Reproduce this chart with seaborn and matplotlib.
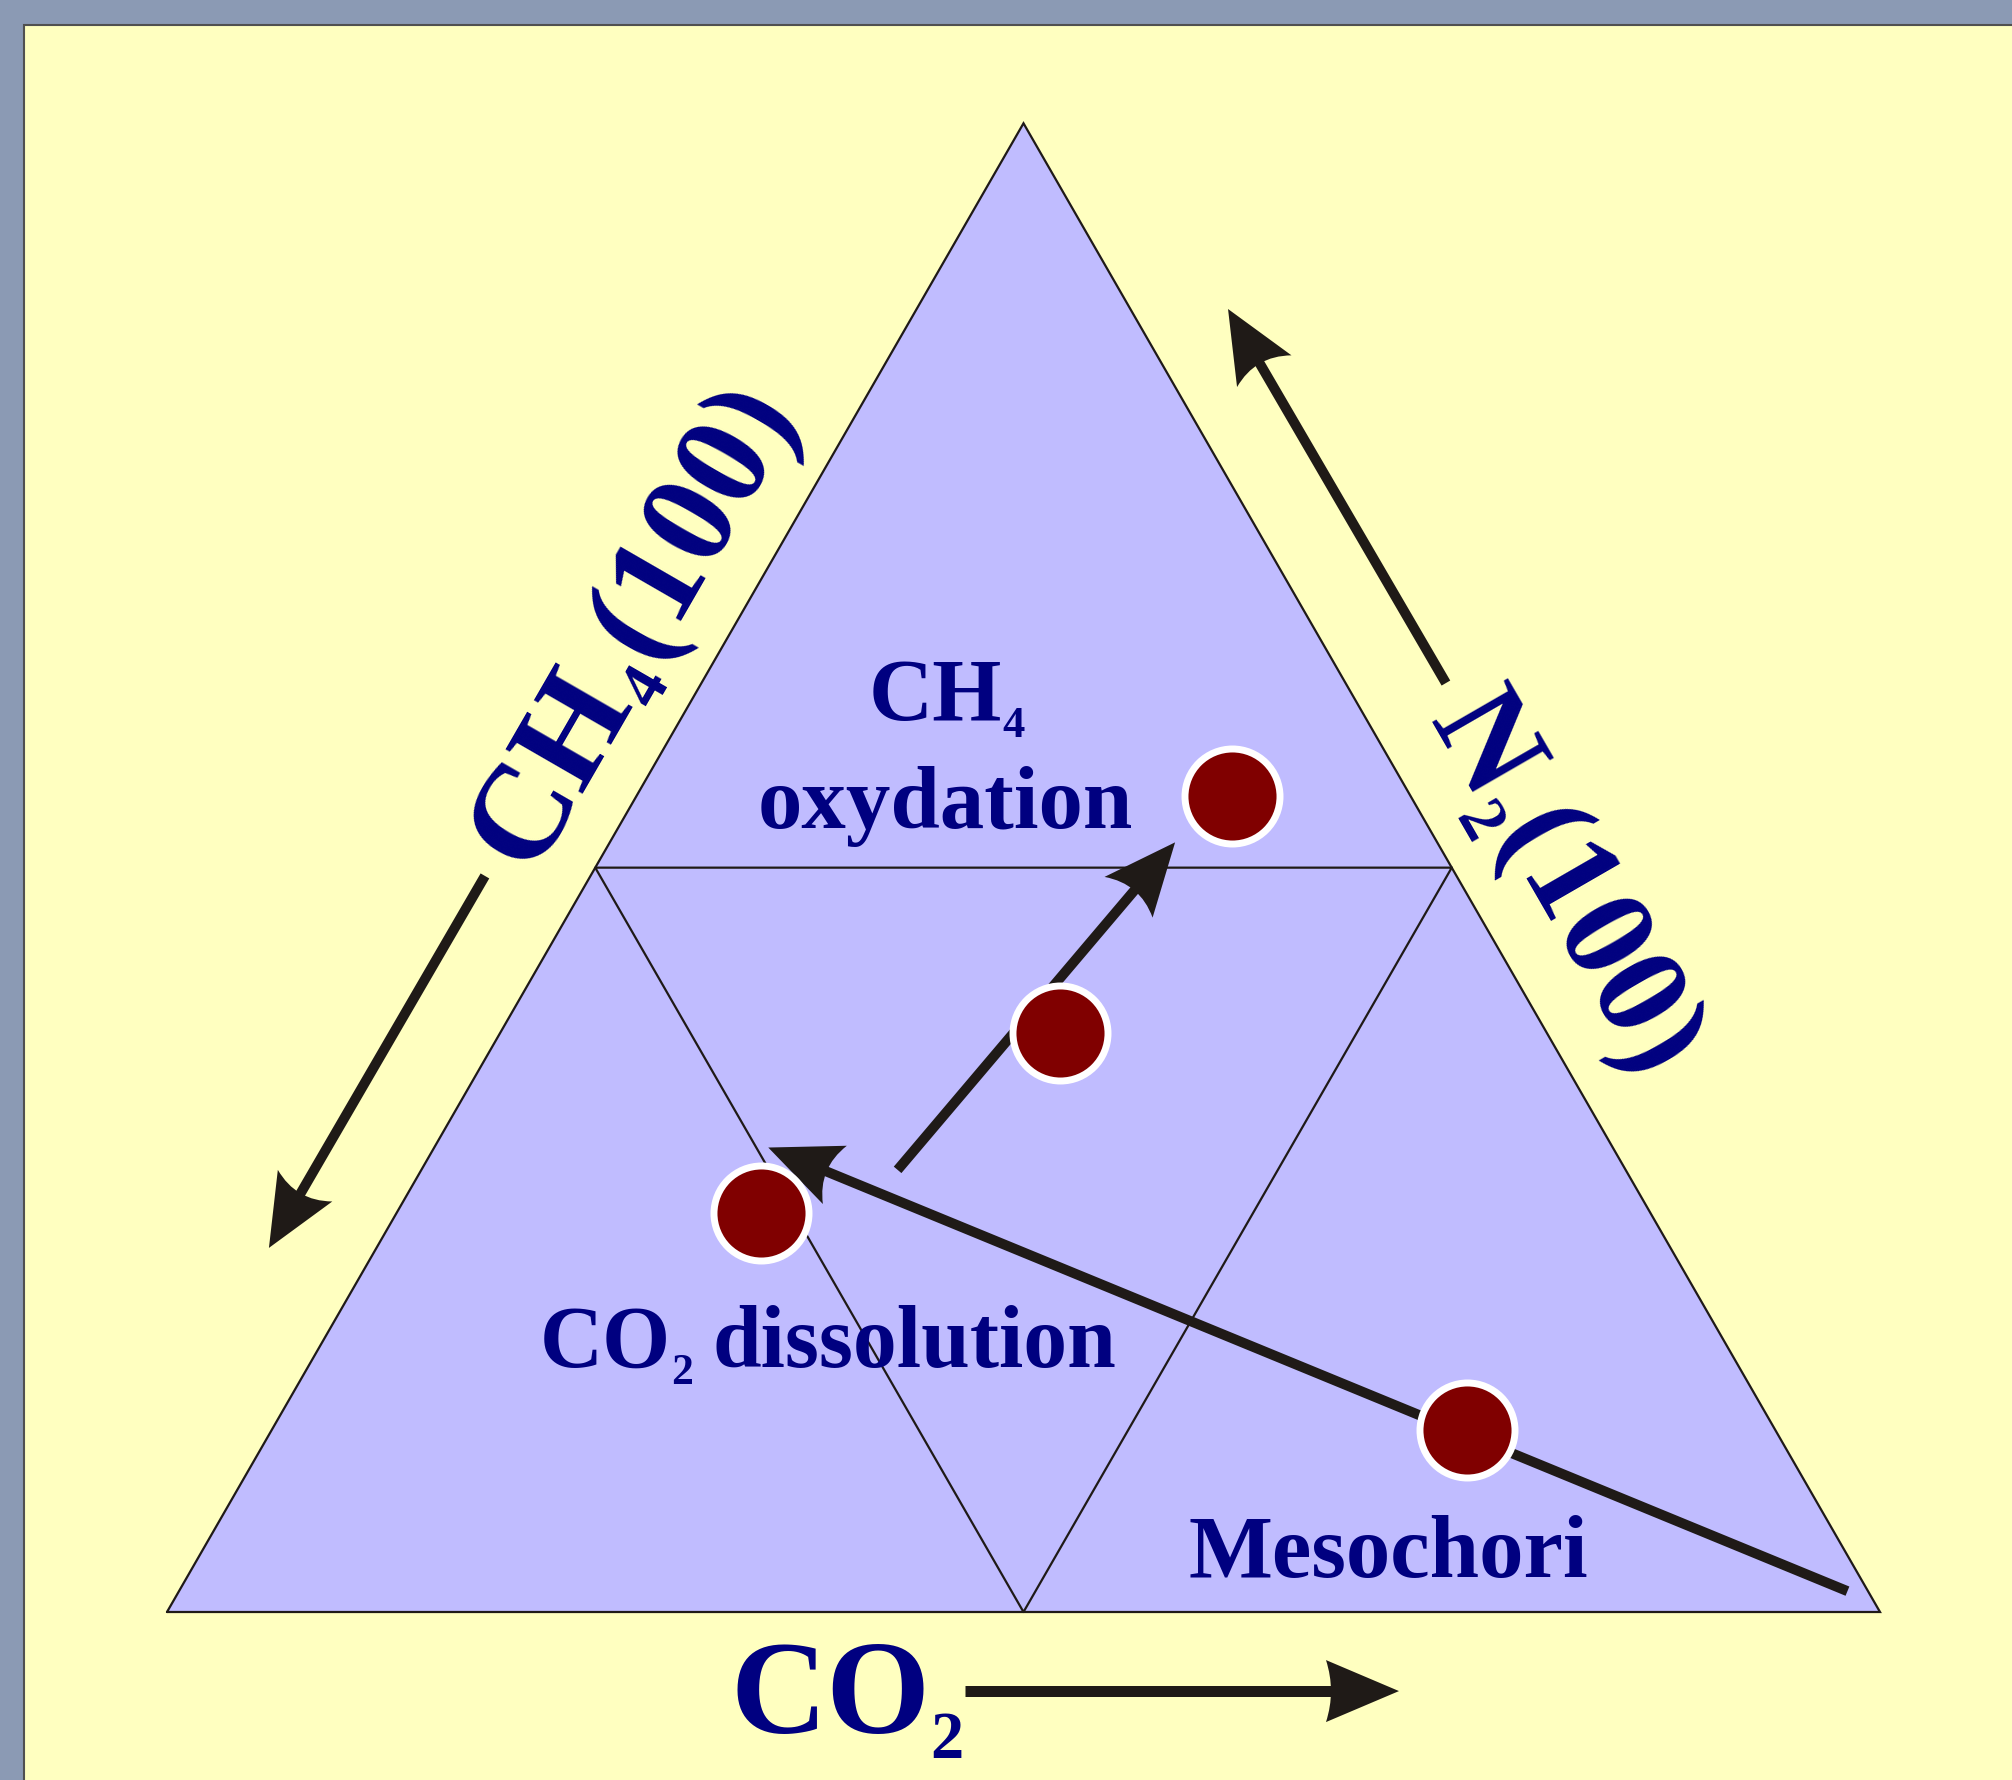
import numpy as np
import pandas as pd
import matplotlib
matplotlib.use("Agg")
import matplotlib.pyplot as plt
import seaborn as sns
from matplotlib.path import Path
from matplotlib.patches import PathPatch, Rectangle
from matplotlib.transforms import IdentityTransform

# ---------------- data (ternary compositions, %) ----------------
sample_names = ["S1", "S2", "S3", "Mesochori"]
co2_pct = [34.8, 32.7, 21.3, 69.8]
n2_pct = [54.8, 38.9, 26.8, 12.2]
ch4_pct = [10.4, 28.4, 51.9, 18.0]

# trend arrows inside the diagram (start -> tip), ternary (CO2, N2) %
trend_start_co2 = [27.8, 97.4]
trend_start_n2 = [29.7, 1.4]
trend_tip_co2 = [33.0, 19.5]
trend_tip_n2 = [51.7, 31.2]

# labels: (text, is_subscript)
label_ch4_region = [("CH", False), ("4", True)]
label_oxydation = [("oxydation", False)]
label_co2_diss = [("CO", False), ("2", True), ("dissolution", False)]
label_meso = [("Mesochori", False)]
label_co2_axis = [("CO", False), ("2", True)]
label_ch4_axis = [("CH", False), ("4", True), ("(100)", False)]
label_n2_axis = [("N", False), ("2", True), ("(100)", False)]

# ---------------- style ----------------
sns.set_theme(style="white")
plt.rcParams["font.family"] = ["Liberation Serif", "DejaVu Serif"]

BG = "#FFFFC0"
FRAME = "#8B9AB4"
FILL = "#C0BCFF"
NAVY = "#000080"
DARK = "#1F1A17"
MAROON = "#800000"

W, H, DPI = 2012, 1780, 100
fig = plt.figure(figsize=(W / DPI, H / DPI), dpi=DPI)
fig.patch.set_facecolor(FRAME)
fig.add_artist(Rectangle((24 / W, -0.01), 1.02, (H - 25) / H + 0.01,
                         transform=fig.transFigure, facecolor=BG,
                         edgecolor="#505050", lw=1.5, zorder=0))

ax = fig.add_axes([0, 0, 1, 1])
ax.set_facecolor("none")
SX, SY = 1713.0, 1719.0
XL = (-167 / SX, (W - 167) / SX)
YL = ((1612 - H) / SY, 1612 / SY)
ax.set_xlim(*XL)
ax.set_ylim(*YL)
ax.axis("off")


def tern(co2, n2):
    co2 = np.asarray(co2, float) / 100.0
    n2 = np.asarray(n2, float) / 100.0
    return co2 + n2 / 2.0, n2 * np.sqrt(3) / 2.0


# outer triangle: vertices CH4 (bottom-left), CO2 (bottom-right), N2 (top)
vx, vy = tern([0, 100, 0, 0], [0, 0, 100, 0])
ax.fill(vx, vy, color=FILL, zorder=1)
ax.plot(vx, vy, color=DARK, lw=1.6, zorder=2, solid_joinstyle="miter")
# inner triangle (50 % lines)
mx, my = tern([50, 0, 50, 50], [50, 50, 0, 50])
ax.plot(mx, my, color=DARK, lw=1.6, zorder=2)

fig.canvas.draw()
renderer = fig.canvas.get_renderer()


def arrow(x0, y0, x1, y1, lw_px=10, L=72, Wd=63, notch=9):
    (px0, py0), (px1, py1) = ax.transData.transform([[x0, y0], [x1, y1]])
    d = np.array([px1 - px0, py1 - py0])
    d = d / np.linalg.norm(d)
    n = np.array([-d[1], d[0]])
    tip = np.array([px1, py1])
    base = tip - (L - notch) * d
    ax.plot([px0, base[0] + 2 * d[0]], [py0, base[1] + 2 * d[1]],
            transform=IdentityTransform(), color=DARK, lw=lw_px * 72 / DPI,
            solid_capstyle="butt", zorder=4)
    bl = tip - L * d + Wd / 2 * n
    br = tip - L * d - Wd / 2 * n
    ctrl = tip - (L - 2 * notch) * d
    verts = [tip, bl, ctrl, br, tip]
    codes = [Path.MOVETO, Path.LINETO, Path.CURVE3, Path.CURVE3, Path.CLOSEPOLY]
    ax.add_patch(PathPatch(Path(verts, codes), transform=IdentityTransform(),
                           facecolor=DARK, edgecolor="none", zorder=4))


def rich_text(parts, x, y, fs, rotation=0.0, ha="center", vshift=0.0,
              sub_ratio=0.5, sub_off=-0.19, gap_after_sub=0.0):
    tk = dict(color=NAVY, fontweight="bold", family=["Liberation Serif", "DejaVu Serif"])
    widths = []
    for s, sub in parts:
        t = ax.text(0, 0, s, fontsize=fs * sub_ratio if sub else fs, **tk)
        widths.append(t.get_window_extent(renderer).width)
        t.remove()
    em = fs * DPI / 72.0
    gaps = [gap_after_sub * em if sub else 0.0 for s, sub in parts]
    total = sum(widths) + sum(gaps[:-1])
    X, Y = ax.transData.transform((x, y))
    th = np.deg2rad(rotation)
    d = np.array([np.cos(th), np.sin(th)])
    n = np.array([-np.sin(th), np.cos(th)])
    p0 = np.array([X, Y]) + vshift * em * n
    if ha == "center":
        p0 = p0 - total / 2 * d
    cum = 0.0
    for (s, sub), w, g in zip(parts, widths, gaps):
        off = sub_off * em if sub else 0.0
        p = p0 + cum * d + off * n
        ax.text(p[0], p[1], s, transform=IdentityTransform(), rotation=rotation,
                rotation_mode="anchor", ha="left", va="baseline",
                fontsize=fs * sub_ratio if sub else fs, zorder=7, **tk)
        cum += w + g


# trend arrows
sx, sy = tern(trend_start_co2, trend_start_n2)
tx, ty = tern(trend_tip_co2, trend_tip_n2)
for a, b, c, e in zip(sx, sy, tx, ty):
    arrow(a, b, c, e, lw_px=10)

# axis direction arrows (diagram coordinates)
arrow(0.1856, 0.4282, 0.0595, 0.2118, lw_px=10)   # CH4
arrow(0.7466, 0.5404, 0.6194, 0.7580, lw_px=10)   # N2
arrow(0.4658, -0.0460, 0.7192, -0.0460, lw_px=11, L=73, Wd=62, notch=5)  # CO2

# sample points
px, py = tern(co2_pct, n2_pct)
df = pd.DataFrame({"sample": sample_names, "x": px, "y": py})
sns.scatterplot(data=df, x="x", y="y", s=4680, color=MAROON,
                edgecolor="white", linewidth=5, ax=ax, zorder=6, legend=False)
ax.set_xlim(*XL)
ax.set_ylim(*YL)
ax.axis("off")
fig.canvas.draw()
renderer = fig.canvas.get_renderer()

# region labels (baseline-anchored)
rich_text(label_ch4_region, 0.4553, 0.5189, 64)
rich_text(label_oxydation, 0.4542, 0.4561, 64)
rich_text(label_co2_diss, 0.3860, 0.1425, 63, gap_after_sub=0.22)
rich_text(label_meso, 0.7128, 0.0204, 64)

# axis labels
rich_text(label_co2_axis, 0.3290, -0.0704, 96, ha="left")
rich_text(label_ch4_axis, 0.2676, 0.5772, 97, rotation=60, vshift=-0.33, gap_after_sub=0.05)
rich_text(label_n2_axis, 0.8200, 0.4250, 96, rotation=-60, vshift=-0.33, gap_after_sub=0.02)

fig.savefig("out.png", dpi=DPI, facecolor=fig.get_facecolor())
